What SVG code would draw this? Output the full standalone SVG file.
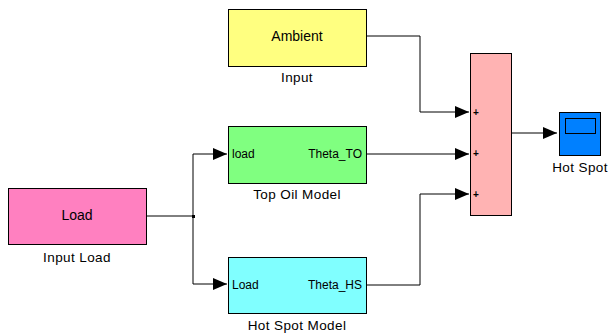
<svg xmlns="http://www.w3.org/2000/svg" width="608" height="334" viewBox="0 0 608 334">
  <style>
    .blk { stroke: #000; stroke-width: 1; }
    .title { font-family: "Liberation Sans", Arial, sans-serif; font-size: 14px; fill: #000; text-anchor: middle; }
    .name { font-family: "Liberation Sans", Arial, sans-serif; font-size: 13.5px; fill: #000; text-anchor: middle; letter-spacing: 0.4px; }
    .port { font-family: "Liberation Sans", Arial, sans-serif; font-size: 12px; fill: #000; }
    .sign { font-family: "Liberation Sans", Arial, sans-serif; font-size: 10px; font-weight: bold; fill: #000; }
    .wire { fill: none; stroke: #000; stroke-width: 1; }
  </style>
  <defs>
    <marker id="arrow" viewBox="0 0 14 12" refX="14" refY="6" markerWidth="14" markerHeight="12" markerUnits="userSpaceOnUse" orient="auto">
      <path d="M0,0 L14,6 L0,12 Z" fill="#000"/>
    </marker>
  </defs>

  <rect width="608" height="334" fill="#fff"/>

  <!-- signal lines -->
  <g id="connectors">
    <polyline class="wire" points="367,36 420,36 420,112 469,112" marker-end="url(#arrow)"/>
    <polyline class="wire" points="367,154 469,154" marker-end="url(#arrow)"/>
    <polyline class="wire" points="367,285 420,285 420,194 469,194" marker-end="url(#arrow)"/>
    <polyline class="wire" points="147,216 194,216"/>
    <polyline class="wire" points="193,154 193,284"/>
    <polyline class="wire" points="193,154 227,154" marker-end="url(#arrow)"/>
    <polyline class="wire" points="193,284 227,284" marker-end="url(#arrow)"/>
    <rect x="192" y="215" width="3" height="3" fill="#000"/>
    <polyline class="wire" points="512,133 557,133" marker-end="url(#arrow)"/>
  </g>

  <g id="ambient">
    <rect class="blk" x="228.5" y="9.5" width="138" height="57" fill="#ffff80"/>
    <text class="title" x="297" y="41">Ambient</text>
    <text class="name" x="297" y="82">Input</text>
  </g>

  <g id="input-load">
    <rect class="blk" x="8.5" y="188.5" width="138" height="56" fill="#ff80c0"/>
    <text class="title" x="77" y="220">Load</text>
    <text class="name" x="77" y="262">Input Load</text>
  </g>

  <g id="top-oil-model">
    <rect class="blk" x="228.5" y="126.5" width="138" height="57" fill="#80ff80"/>
    <text class="port" x="232" y="158">load</text>
    <text class="port" x="362" y="158" text-anchor="end">Theta_TO</text>
    <text class="name" x="297" y="199">Top Oil Model</text>
  </g>

  <g id="hot-spot-model">
    <rect class="blk" x="228.5" y="257.5" width="138" height="56" fill="#80ffff"/>
    <text class="port" x="232" y="289">Load</text>
    <text class="port" x="362" y="289" text-anchor="end">Theta_HS</text>
    <text class="name" x="297" y="330">Hot Spot Model</text>
  </g>

  <g id="sum">
    <rect class="blk" x="470.5" y="53.5" width="41" height="162" fill="#ffb3b3"/>
    <text class="sign" x="473" y="116">+</text>
    <text class="sign" x="473" y="157">+</text>
    <text class="sign" x="473" y="198">+</text>
  </g>

  <g id="hot-spot-scope">
    <rect class="blk" x="559.5" y="112.5" width="41" height="43" fill="#0080ff"/>
    <rect x="565.5" y="118.5" width="30" height="15" fill="none" stroke="#000" stroke-width="1"/>
    <text class="name" x="580" y="172">Hot Spot</text>
  </g>
</svg>
